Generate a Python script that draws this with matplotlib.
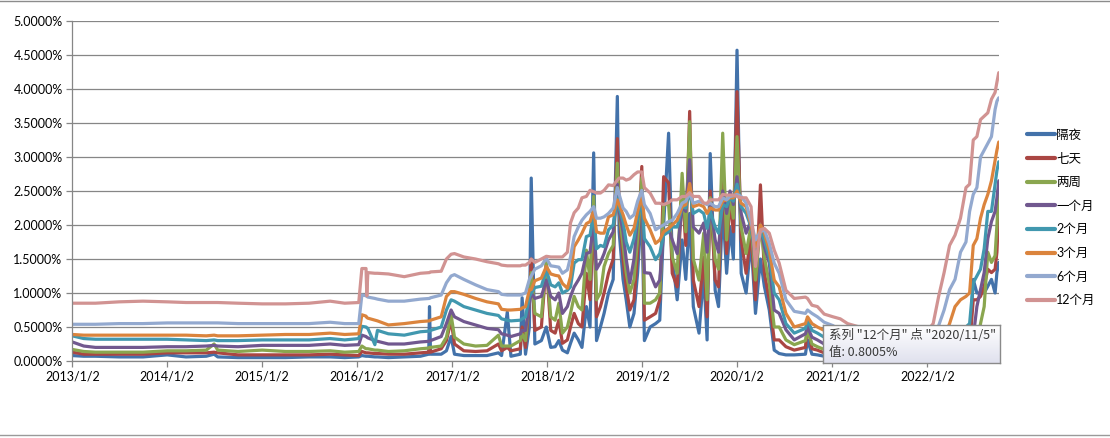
import matplotlib
matplotlib.use("Agg")
import matplotlib.pyplot as plt
import numpy as np
import pandas as pd
from matplotlib.lines import Line2D

plt.rcParams['font.family'] = ['Lato', 'Noto Sans CJK SC', 'DejaVu Sans']

# observation dates (8 per line)
dates = [
    "2013-01-02", "2013-02-15", "2013-04-01", "2013-07-01", "2013-10-01", "2014-01-02", "2014-03-15", "2014-06-01",
    "2014-07-01", "2014-07-15", "2014-10-01", "2015-01-02", "2015-04-01", "2015-07-01", "2015-09-20", "2015-11-15",
    "2016-01-08", "2016-01-20", "2016-02-05", "2016-02-08", "2016-02-12", "2016-03-10", "2016-03-20", "2016-05-01",
    "2016-07-01", "2016-09-01", "2016-10-03", "2016-10-06", "2016-10-10", "2016-11-20", "2016-12-10", "2016-12-28",
    "2017-01-10", "2017-02-15", "2017-04-01", "2017-05-15", "2017-06-28", "2017-07-10", "2017-08-01", "2017-08-15",
    "2017-09-20", "2017-09-27", "2017-10-10", "2017-10-25", "2017-11-01", "2017-11-15", "2017-12-10", "2017-12-29",
    "2018-01-15", "2018-02-01", "2018-02-15", "2018-03-01", "2018-03-20", "2018-04-01", "2018-04-15", "2018-05-01",
    "2018-05-15", "2018-06-01", "2018-06-15", "2018-06-29", "2018-07-10", "2018-07-25", "2018-08-08", "2018-08-25",
    "2018-09-12", "2018-09-28", "2018-10-05", "2018-10-20", "2018-11-01", "2018-11-15", "2018-12-01", "2018-12-15",
    "2018-12-31", "2019-01-10", "2019-02-01", "2019-02-22", "2019-03-10", "2019-03-25", "2019-04-13", "2019-04-27",
    "2019-05-16", "2019-06-04", "2019-06-18", "2019-07-03", "2019-07-17", "2019-08-08", "2019-08-26", "2019-09-08",
    "2019-09-20", "2019-10-09", "2019-10-22", "2019-11-07", "2019-11-22", "2019-12-05", "2019-12-18", "2020-01-01",
    "2020-01-17", "2020-02-05", "2020-02-24", "2020-03-12", "2020-03-31", "2020-04-15", "2020-05-04", "2020-05-23",
    "2020-06-11", "2020-07-07", "2020-08-08", "2020-09-20", "2020-09-28", "2020-10-15", "2020-11-05", "2020-12-01",
    "2021-01-04", "2021-02-01", "2021-03-01", "2021-04-15", "2021-07-01", "2021-10-01", "2021-12-15", "2022-01-03",
    "2022-01-24", "2022-02-14", "2022-03-07", "2022-03-28", "2022-04-18", "2022-05-09", "2022-05-30", "2022-06-13",
    "2022-06-27", "2022-07-11", "2022-07-25", "2022-08-08", "2022-08-22", "2022-09-05", "2022-09-19", "2022-09-26",
    "2022-10-03",
]

# rates in %
overnight = [
    0.08, 0.07, 0.07, 0.06, 0.06, 0.09, 0.06, 0.07,
    0.10, 0.06, 0.05, 0.05, 0.05, 0.06, 0.06, 0.05,
    0.06, 0.08, 0.07, 0.07, 0.07, 0.06, 0.06, 0.05,
    0.06, 0.07, 0.10, 0.80, 0.10, 0.10, 0.15, 0.36,
    0.10, 0.08, 0.08, 0.08, 0.12, 0.08, 0.72, 0.07,
    0.10, 0.93, 0.10, 0.50, 2.69, 0.25, 0.30, 0.50,
    0.20, 0.21, 0.30, 0.16, 0.12, 0.26, 0.41, 0.31,
    0.20, 0.80, 0.50, 3.06, 0.30, 0.50, 0.70, 1.00,
    1.20, 3.89, 1.90, 1.20, 0.90, 0.50, 0.70, 1.30,
    2.30, 0.30, 0.50, 0.55, 0.60, 2.00, 3.35, 1.53,
    0.90, 1.78, 1.20, 2.17, 0.80, 0.41, 1.29, 0.31,
    3.05, 1.04, 0.80, 2.27, 1.29, 1.97, 1.50, 4.57,
    1.29, 1.00, 1.78, 0.70, 1.50, 1.10, 0.75, 0.16,
    0.11, 0.09, 0.09, 0.10, 0.31, 0.10, 0.09, 0.07,
    0.05, 0.04, 0.04, 0.03, 0.03, 0.03, 0.03, 0.03,
    0.03, 0.03, 0.03, 0.05, 0.05, 0.05, 0.10, 0.20,
    1.20, 1.00, 1.00, 1.00, 1.10, 1.20, 1.00, 1.30,
    1.45,
]
week1 = [
    0.13, 0.10, 0.10, 0.10, 0.10, 0.12, 0.12, 0.12,
    0.13, 0.12, 0.09, 0.09, 0.09, 0.09, 0.10, 0.09,
    0.08, 0.14, 0.12, 0.12, 0.12, 0.11, 0.11, 0.10,
    0.10, 0.12, 0.13, 0.20, 0.13, 0.18, 0.30, 0.60,
    0.25, 0.15, 0.14, 0.15, 0.25, 0.15, 0.20, 0.15,
    0.18, 0.50, 0.20, 0.90, 1.50, 0.45, 0.50, 1.45,
    0.45, 0.41, 0.60, 0.26, 0.31, 0.50, 0.70, 0.55,
    0.50, 1.29, 0.90, 2.20, 0.65, 0.80, 1.00, 1.29,
    1.50, 3.27, 2.20, 1.50, 1.10, 0.75, 0.90, 1.60,
    2.86, 0.60, 0.65, 0.70, 0.90, 2.71, 2.62, 1.29,
    1.09, 2.56, 1.70, 3.67, 1.19, 0.80, 1.53, 0.65,
    2.50, 1.19, 1.09, 2.76, 1.58, 2.37, 1.90, 3.96,
    1.78, 1.29, 1.90, 0.90, 2.59, 1.30, 0.90, 0.31,
    0.31, 0.21, 0.16, 0.20, 0.55, 0.18, 0.16, 0.12,
    0.08, 0.07, 0.06, 0.05, 0.05, 0.05, 0.05, 0.05,
    0.05, 0.05, 0.05, 0.08, 0.08, 0.10, 0.15, 0.20,
    0.90, 0.90, 0.95, 1.10, 1.35, 1.30, 1.35, 1.60,
    2.20,
]
week2 = [
    0.17, 0.14, 0.13, 0.13, 0.13, 0.15, 0.15, 0.16,
    0.25, 0.16, 0.14, 0.16, 0.14, 0.14, 0.15, 0.13,
    0.14, 0.22, 0.18, 0.18, 0.18, 0.16, 0.16, 0.14,
    0.15, 0.18, 0.19, 0.20, 0.20, 0.22, 0.35, 0.68,
    0.35, 0.25, 0.22, 0.23, 0.38, 0.22, 0.22, 0.22,
    0.30, 0.40, 0.30, 1.00, 1.30, 0.70, 0.65, 1.46,
    0.65, 0.60, 0.85, 0.41, 0.50, 0.70, 0.95, 0.80,
    0.75, 1.63, 1.20, 2.42, 0.90, 1.00, 1.39, 1.58,
    1.70, 2.91, 2.20, 1.70, 1.30, 1.00, 1.20, 1.80,
    2.70, 0.85, 0.85, 0.90, 1.00, 2.30, 2.30, 1.53,
    1.29, 2.76, 1.90, 3.52, 1.50, 1.19, 1.88, 0.90,
    2.40, 1.49, 1.35, 3.35, 1.78, 2.45, 2.10, 3.30,
    1.97, 1.58, 2.00, 1.19, 2.00, 1.53, 1.14, 0.50,
    0.50, 0.31, 0.24, 0.30, 0.46, 0.25, 0.21, 0.17,
    0.10, 0.09, 0.08, 0.07, 0.07, 0.07, 0.08, 0.07,
    0.08, 0.08, 0.10, 0.12, 0.12, 0.15, 0.20, 0.25,
    0.30, 0.25, 0.55, 0.80, 1.60, 1.45, 1.55, 2.00,
    2.50,
]
month1 = [
    0.28, 0.22, 0.20, 0.20, 0.20, 0.21, 0.21, 0.22,
    0.23, 0.22, 0.21, 0.23, 0.23, 0.23, 0.25, 0.23,
    0.24, 0.38, 0.36, 0.35, 0.34, 0.30, 0.29, 0.25,
    0.25, 0.28, 0.29, 0.29, 0.30, 0.36, 0.55, 0.75,
    0.65, 0.58, 0.53, 0.48, 0.46, 0.40, 0.38, 0.36,
    0.40, 0.45, 0.45, 0.85, 1.00, 0.92, 0.95, 1.19,
    0.95, 0.90, 1.00, 0.70, 0.80, 0.95, 1.09, 1.19,
    1.29, 1.58, 1.60, 2.03, 1.35, 1.45, 1.58, 1.78,
    1.90, 2.60, 2.20, 1.90, 1.50, 1.15, 1.50, 2.10,
    2.50, 1.30, 1.29, 1.09, 1.19, 1.90, 1.95, 1.78,
    1.58, 2.27, 2.20, 2.96, 1.97, 1.88, 2.03, 1.60,
    2.30, 1.78, 1.60, 2.50, 2.17, 2.50, 2.30, 2.71,
    2.17, 1.88, 2.07, 1.40, 2.00, 1.68, 1.44, 0.75,
    0.70, 0.46, 0.31, 0.40, 0.50, 0.35, 0.31, 0.25,
    0.15, 0.13, 0.12, 0.10, 0.10, 0.10, 0.14, 0.12,
    0.13, 0.15, 0.18, 0.20, 0.22, 0.25, 0.30, 0.30,
    0.35, 0.80, 1.05, 1.30, 1.80, 2.05, 2.20, 2.40,
    2.65,
]
month2 = [
    0.37, 0.33, 0.32, 0.32, 0.32, 0.32, 0.31, 0.30,
    0.31, 0.30, 0.30, 0.31, 0.31, 0.31, 0.33, 0.31,
    0.33, 0.51, 0.50, 0.49, 0.48, 0.24, 0.45, 0.40,
    0.38, 0.43, 0.44, 0.44, 0.45, 0.50, 0.75, 0.90,
    0.88, 0.80, 0.75, 0.70, 0.67, 0.62, 0.60, 0.59,
    0.60, 0.62, 0.65, 0.95, 1.00, 1.08, 1.10, 1.34,
    1.12, 1.09, 1.15, 1.00, 1.04, 1.09, 1.44, 1.49,
    1.49, 1.83, 1.85, 2.17, 1.65, 1.70, 1.68, 1.93,
    2.00, 2.40, 2.25, 2.05, 1.75, 1.60, 1.80, 2.10,
    2.40, 1.80, 1.68, 1.49, 1.58, 1.85, 1.90, 1.97,
    1.97, 2.27, 2.25, 2.50, 2.17, 2.22, 2.17, 1.95,
    2.20, 1.97, 1.88, 2.30, 2.27, 2.40, 2.35, 2.60,
    2.27, 2.17, 1.97, 1.58, 1.90, 1.78, 1.53, 1.00,
    0.90, 0.55, 0.41, 0.48, 0.60, 0.45, 0.41, 0.35,
    0.22, 0.20, 0.17, 0.15, 0.13, 0.13, 0.18, 0.17,
    0.18, 0.20, 0.25, 0.35, 0.40, 0.45, 0.50, 0.55,
    1.15, 1.25, 1.35, 1.65, 2.20, 2.20, 2.60, 2.80,
    2.93,
]
month3 = [
    0.39, 0.38, 0.38, 0.38, 0.38, 0.38, 0.38, 0.37,
    0.38, 0.37, 0.37, 0.38, 0.39, 0.39, 0.41, 0.39,
    0.40, 0.68, 0.66, 0.64, 0.63, 0.60, 0.59, 0.53,
    0.55, 0.58, 0.59, 0.59, 0.60, 0.65, 0.95, 1.02,
    1.02, 0.98, 0.92, 0.87, 0.84, 0.76, 0.75, 0.75,
    0.76, 0.78, 0.80, 1.05, 1.05, 1.18, 1.22, 1.39,
    1.28, 1.26, 1.25, 1.14, 1.07, 1.24, 1.68, 1.78,
    1.88, 2.02, 2.05, 2.22, 1.90, 1.88, 1.88, 2.12,
    2.15, 2.37, 2.30, 2.15, 2.00, 1.85, 1.95, 2.20,
    2.42, 2.10, 1.93, 1.73, 1.78, 1.90, 1.95, 2.00,
    2.07, 2.27, 2.30, 2.61, 2.27, 2.30, 2.27, 2.17,
    2.25, 2.22, 2.22, 2.35, 2.37, 2.40, 2.40, 2.50,
    2.32, 2.27, 2.00, 1.68, 2.00, 1.88, 1.63, 1.19,
    1.09, 0.70, 0.50, 0.55, 0.65, 0.55, 0.50, 0.45,
    0.30, 0.27, 0.23, 0.20, 0.16, 0.17, 0.22, 0.20,
    0.22, 0.25, 0.35, 0.55, 0.80, 0.90, 0.95, 1.00,
    1.70, 1.80, 2.10, 2.30, 2.45, 2.65, 2.95, 3.10,
    3.22,
]
month6 = [
    0.54, 0.54, 0.54, 0.55, 0.55, 0.56, 0.56, 0.56,
    0.56, 0.56, 0.55, 0.55, 0.55, 0.55, 0.57, 0.55,
    0.55, 0.97, 0.96, 0.95, 0.94, 0.92, 0.91, 0.88,
    0.88, 0.91, 0.92, 0.92, 0.93, 0.97, 1.15, 1.25,
    1.27, 1.20, 1.12, 1.05, 1.02, 0.98, 0.97, 0.97,
    0.97, 0.98, 1.00, 1.20, 1.25, 1.35, 1.40, 1.51,
    1.40, 1.39, 1.38, 1.29, 1.34, 1.53, 1.83, 1.97,
    2.07, 2.15, 2.20, 2.27, 2.10, 2.10, 2.12, 2.17,
    2.25, 2.55, 2.45, 2.25, 2.20, 2.10, 2.15, 2.35,
    2.51, 2.30, 2.17, 1.93, 1.97, 2.00, 2.05, 2.07,
    2.17, 2.32, 2.35, 2.47, 2.32, 2.35, 2.32, 2.30,
    2.32, 2.27, 2.27, 2.40, 2.37, 2.42, 2.43, 2.45,
    2.42, 2.32, 2.05, 1.78, 1.90, 1.93, 1.73, 1.44,
    1.29, 0.90, 0.73, 0.70, 0.75, 0.70, 0.65, 0.57,
    0.52, 0.45, 0.38, 0.30, 0.25, 0.24, 0.30, 0.30,
    0.38, 0.52, 0.75, 1.05, 1.20, 1.60, 1.75, 2.20,
    2.45, 2.55, 3.00, 3.10, 3.20, 3.30, 3.70, 3.82,
    3.87,
]
month12 = [
    0.85, 0.85, 0.85, 0.87, 0.88, 0.87, 0.86, 0.86,
    0.86, 0.86, 0.85, 0.84, 0.84, 0.85, 0.88, 0.85,
    0.86, 1.36, 1.36, 0.96, 1.30, 1.29, 1.29, 1.28,
    1.24, 1.29, 1.30, 1.30, 1.31, 1.32, 1.50, 1.57,
    1.58, 1.53, 1.50, 1.46, 1.43, 1.41, 1.40, 1.40,
    1.40, 1.41, 1.41, 1.45, 1.50, 1.45, 1.50, 1.54,
    1.53, 1.53, 1.53, 1.53, 1.60, 2.03, 2.18, 2.25,
    2.40, 2.42, 2.51, 2.49, 2.47, 2.47, 2.51, 2.59,
    2.58, 2.66, 2.69, 2.69, 2.66, 2.68, 2.74, 2.78,
    2.78, 2.55, 2.47, 2.32, 2.32, 2.30, 2.33, 2.37,
    2.37, 2.42, 2.42, 2.47, 2.42, 2.42, 2.32, 2.32,
    2.37, 2.37, 2.37, 2.45, 2.44, 2.44, 2.44, 2.42,
    2.40, 2.40, 2.27, 1.39, 1.93, 1.95, 1.88, 1.63,
    1.44, 1.04, 0.92, 0.94, 0.92, 0.82, 0.8005, 0.69,
    0.65, 0.62, 0.55, 0.50, 0.40, 0.38, 0.42, 0.45,
    0.55, 0.95, 1.30, 1.70, 1.85, 2.10, 2.55, 2.60,
    3.25, 3.30, 3.55, 3.60, 3.65, 3.85, 3.95, 4.10,
    4.24,
]

labels = ['隔夜', '七天', '两周', '一个月', '2个月', '3个月', '6个月', '12个月']
colors = ['#4372AA', '#AA4643', '#8AA64F', '#71588F', '#4198AF', '#DB843D', '#93A9CF', '#D19392']
series = [overnight, week1, week2, month1, month2, month3, month6, month12]

tick_years = list(range(2013, 2023))

W, H = 1110, 438
fig = plt.figure(figsize=(W / 100, H / 100), dpi=100)
ax = fig.add_axes([72.3 / W, 1 - 361 / H, (999 - 72.3) / W, (361 - 21) / H])

x = pd.to_datetime(dates)
for vals, lab, col in zip(series, labels, colors):
    assert len(vals) == len(x)
    ax.plot(x, vals, color=col, lw=2.3, label=lab, solid_joinstyle='round', solid_capstyle='round')

grid_col = '#868686'
ax.set_ylim(0, 5)
ax.set_yticks(np.arange(0, 5.01, 0.5))
ax.yaxis.set_major_formatter(plt.FuncFormatter(lambda v, p: f'{v:.4f}%'))
ax.set_xlim(pd.Timestamp('2013-01-02'), pd.Timestamp('2022-10-04'))
ax.set_xticks([pd.Timestamp(f'{y}-01-02') for y in tick_years])
ax.set_xticklabels([f'{y}/1/2' for y in tick_years])
ax.grid(axis='y', color=grid_col, lw=0.9)
ax.set_axisbelow(True)
for s in ['top', 'right']:
    ax.spines[s].set_visible(False)
for s in ['left', 'bottom']:
    ax.spines[s].set_color(grid_col)
    ax.spines[s].set_linewidth(0.9)
ax.tick_params(direction='out', length=4, width=0.9, color=grid_col, labelsize=9, pad=3)

leg = ax.legend(loc='center left', bbox_to_anchor=(1027 / W, 1 - 217.5 / H), bbox_transform=fig.transFigure,
                frameon=False, fontsize=9, handlelength=2.2, handletextpad=0.15,
                labelspacing=0.93, borderpad=0, borderaxespad=0)
for h in leg.get_lines():
    h.set_linewidth(3)

# hover tooltip from the screenshot
tip = fig.add_axes([823 / W, 1 - 363 / H, 177 / W, 38 / H])
grad = np.linspace(0, 1, 50).reshape(-1, 1)
top_c = np.array([1.0, 1.0, 1.0])
bot_c = np.array([0xe0, 0xe1, 0xee]) / 255
img = top_c + (bot_c - top_c) * grad[:, :, None]
tip.imshow(img, aspect='auto', extent=[0, 1, 0, 1])
tip.set_xlim(0, 1)
tip.set_ylim(0, 1)
tip.set_xticks([])
tip.set_yticks([])
for s in tip.spines.values():
    s.set_color('#8a8a8a')
    s.set_linewidth(1)
tip_font = ['Noto Sans CJK SC', 'DejaVu Sans']
tip.text(0.034, 0.73, '系列 "12个月" 点 "2020/11/5"', fontsize=9, color='#383838',
         va='center', ha='left', family=tip_font)
tip.text(0.034, 0.27, '值: 0.8005%', fontsize=9, color='#383838',
         va='center', ha='left', family=tip_font)

# sheet borders above and below the chart
fig.add_artist(Line2D([0, 1], [1 - 0.5 / H, 1 - 0.5 / H], transform=fig.transFigure, color='#8c8c8c', lw=1))
fig.add_artist(Line2D([0, 1], [1 - 435 / H, 1 - 435 / H], transform=fig.transFigure, color='#9a9a9a', lw=1))

fig.savefig('out.png', dpi=100)
